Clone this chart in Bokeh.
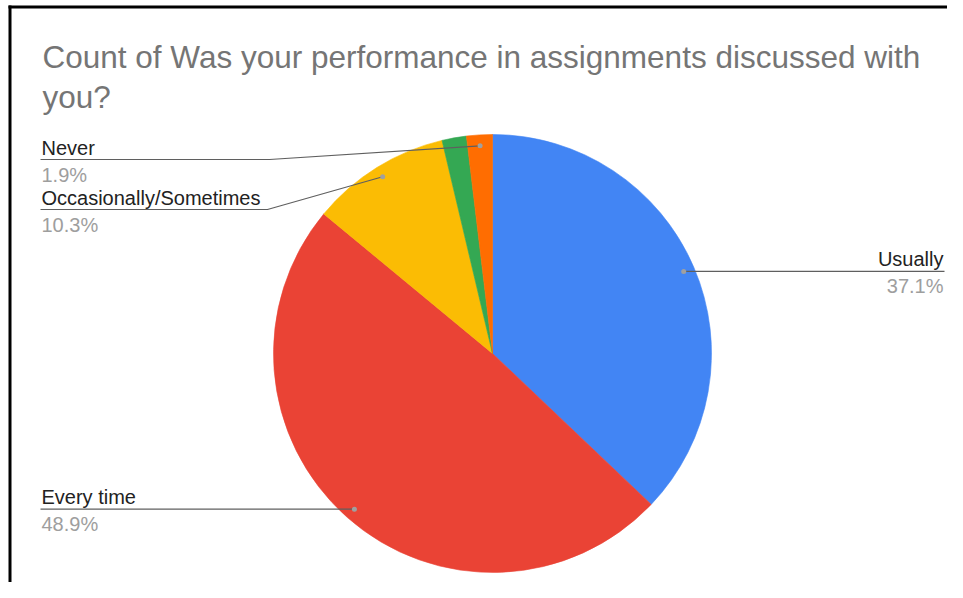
import math
from bokeh.plotting import figure
from bokeh.models import Range1d
from bokeh.core.properties import value
from bokeh.embed import file_html
from bokeh.resources import INLINE

# ---------------- data ----------------
title_lines = ["Count of Was your performance in assignments discussed with", "you?"]
categories = ["Usually", "Every time", "Occasionally/Sometimes", "Other", "Never"]
percents = [37.1, 48.9, 10.3, 1.8, 1.9]
colors = ["#4285F4", "#EA4335", "#FBBC04", "#34A853", "#FF6D01"]
show_label = [True, True, True, False, True]

# ---------------- layout (screen px) ----------------
W, H = 947, 582
FONT = "Liberation Sans"
TITLE_SIZE = 31.5
LABEL_SIZE = 20
TITLE_SHIFT = 11     # compensation for rendered baseline
LABEL_SHIFT = 6


def X(sx):
    return sx


def Y(sy):
    return H - sy


cx, cy, R = X(492), Y(353), 219
DOT_R = 0.95 * R
# label placement: side, screen y of underline (None -> dot's y), bend x
label_layout = {
    "Usually": ("right", None, None),
    "Every time": ("left", None, None),
    "Occasionally/Sometimes": ("left", 209, 267),
    "Never": ("left", 159, 269),
}
LEFT_X = 40
RIGHT_X = 944

p = figure(width=W, height=H, x_range=Range1d(0, W), y_range=Range1d(0, H),
           output_backend="svg", toolbar_location=None, min_border=0)
p.axis.visible = False
p.grid.visible = False
p.outline_line_color = None
p.background_fill_color = "white"
p.border_fill_color = "white"

# ---------------- pie ----------------
total = sum(percents)
cum = 0.0
starts, ends, mids = [], [], []
for v in percents:
    a0 = cum / total * 360.0
    cum += v
    a1 = cum / total * 360.0
    starts.append(math.radians(90 - a1))
    ends.append(math.radians(90 - a0))
    mids.append(math.radians((a0 + a1) / 2))

n = len(percents)
p.wedge(x=[cx] * n, y=[cy] * n, radius=R, start_angle=starts, end_angle=ends,
        direction="anticlock", fill_color=colors, line_color=colors, line_width=0.6)

# ---------------- labels with leader lines ----------------
for cat, pct, show, m in zip(categories, percents, show_label, mids):
    if not show:
        continue
    dx = cx + DOT_R * math.sin(m)
    dy = cy + DOT_R * math.cos(m)
    side, line_sy, bend_sx = label_layout[cat]
    ly = dy if line_sy is None else Y(line_sy)
    if side == "right":
        xs = [dx, X(RIGHT_X)]
        ys = [dy, dy]
        tx, align = X(RIGHT_X) - 1, "right"
    else:
        if bend_sx is None:
            xs = [X(LEFT_X), dx]
            ys = [ly, dy]
        else:
            xs = [X(LEFT_X), X(bend_sx), dx]
            ys = [ly, ly, dy]
        tx, align = X(LEFT_X) + 1, "left"
    p.line(xs, ys, line_color="#5f5f5f", line_width=1.2)
    p.scatter([dx], [dy], size=5, fill_color="#a0a0a0", line_color=None)
    p.text(x=[tx], y=[ly + 6 + LABEL_SHIFT], text=[cat], text_font=value(FONT),
           text_font_size=f"{LABEL_SIZE}px", text_color="#222222", text_align=align,
           text_baseline="alphabetic")
    p.text(x=[tx], y=[ly - 21 + LABEL_SHIFT], text=[f"{pct:.1f}%"], text_font=value(FONT),
           text_font_size=f"{LABEL_SIZE}px", text_color="#9e9e9e", text_align=align,
           text_baseline="alphabetic")

# ---------------- title ----------------
p.text(x=[X(42), X(42)], y=[Y(67) + TITLE_SHIFT, Y(107) + TITLE_SHIFT], text=title_lines,
       text_font=value(FONT), text_font_size=f"{TITLE_SIZE}px", text_color="#757575",
       text_baseline="alphabetic")

# ---------------- frame (top and left edges) ----------------
p.quad(left=[8], right=[11], bottom=[0], top=[Y(5)], fill_color="black", line_color=None)
p.quad(left=[8], right=[W], bottom=[Y(8)], top=[Y(5)], fill_color="black", line_color=None)

open("out.html", "w").write(file_html(p, INLINE))
